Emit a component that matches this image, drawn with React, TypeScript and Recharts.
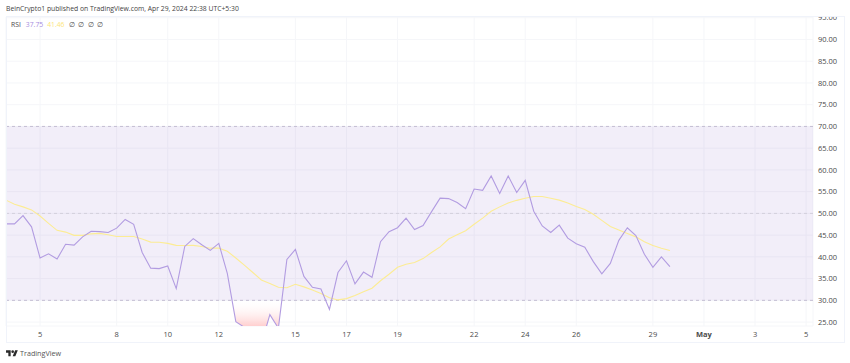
import { Area, CartesianGrid, ComposedChart, Line, ReferenceArea, ReferenceLine, XAxis, YAxis } from "recharts";

const FONT = "'Open Sans', sans-serif";

// 8h candles, the first one sits at Apr 3 16:00
const FIRST_DAY = 3 + 2 / 3;

const rsiValues = [
  47.6, 47.6, 49.5, 46.9, 39.75, 40.7, 39.5, 42.9, 42.7, 44.6,
  45.9, 45.8, 45.6, 46.6, 48.6, 47.5, 41.0, 37.4, 37.3, 37.9,
  32.7, 42.4, 44.2, 42.8, 41.5, 43.1, 36.2, 25.1, 23.8, 22.0,
  20.0, 26.7, 23.6, 39.4, 41.7, 35.5, 33.0, 32.6, 27.9, 36.4,
  39.1, 33.8, 36.5, 35.3, 43.5, 45.8, 46.7, 48.9, 46.3, 47.2,
  50.4, 53.5, 53.4, 52.5, 51.1, 55.6, 55.3, 58.6, 54.6, 58.6,
  54.8, 57.6, 50.5, 47.1, 45.6, 47.3, 44.3, 43.0, 42.2, 38.9,
  36.1, 38.5, 43.8, 46.7, 44.9, 40.6, 37.6, 40.0, 37.75,
];

const maValues = [
  53.05, 52.1, 51.5, 50.8, 49.4, 47.7, 46.1, 45.7, 44.95, 44.95,
  45.3, 45.4, 45.1, 44.7, 44.7, 44.7, 44.1, 43.4, 43.35, 43.1,
  42.65, 42.6, 42.65, 42.4, 42.0, 42.0, 41.3, 39.75, 38.1, 36.4,
  34.7, 33.9, 33.0, 32.9, 33.7, 33.1, 32.4, 31.6, 30.6, 30.1,
  30.4, 31.1, 31.95, 32.8, 34.5, 36.0, 37.6, 38.3, 38.7, 39.6,
  41.0, 42.3, 44.1, 45.1, 46.0, 47.5, 48.9, 50.5, 51.5, 52.4,
  53.0, 53.5, 53.9, 53.9, 53.5, 53.05, 52.4, 51.6, 50.9, 49.8,
  48.4, 47.0, 46.2, 45.4, 44.6, 43.5, 42.6, 42.0, 41.46,
];

const dayTicks = [5, 8, 10, 12, 15, 17, 19, 22, 24, 26, 29, 31, 33, 35];
const dayLabels = ["5", "8", "10", "12", "15", "17", "19", "22", "24", "26", "29", "May", "3", "5"];
const valueTicks = [25, 30, 35, 40, 45, 50, 55, 60, 65, 70, 75, 80, 85, 90, 95];

const data = rsiValues.map((rsi, i) => ({
  day: FIRST_DAY + i / 3,
  rsi,
  ma: maValues[i],
}));

function DayTick({ x, y, payload }: any) {
  const label = dayLabels[dayTicks.indexOf(payload.value)];
  return (
    <text
      x={x}
      y={y + 3}
      textAnchor="middle"
      fontFamily={FONT}
      fontSize={7.5}
      fontWeight={label === "May" ? 700 : 400}
      fill="#4a4a4a"
    >
      {label}
    </text>
  );
}

export default function App() {
  return (
    <div style={{ position: "absolute", left: 0, top: 0, width: 850, height: 363, background: "#fff", overflow: "hidden", fontFamily: FONT }}>
      <ComposedChart
        width={850}
        height={363}
        data={data}
        margin={{ top: 16, right: 0, bottom: 21, left: 6 }}
      >
        <defs>
          <linearGradient id="oversold" gradientUnits="userSpaceOnUse" x1="0" y1="300" x2="0" y2="326">
            <stop offset="0" stopColor="#ffffff" stopOpacity={0} />
            <stop offset="1" stopColor="#ffcfcf" stopOpacity={1} />
          </linearGradient>
        </defs>
        <CartesianGrid stroke="#f5f6f9" strokeWidth={1} />
        <XAxis
          type="number"
          dataKey="day"
          domain={[3.668, 35.27]}
          ticks={dayTicks}
          interval={0}
          height={16}
          axisLine={false}
          tickLine={false}
          tick={<DayTick />}
        />
        <YAxis
          orientation="right"
          type="number"
          domain={[24.1, 95.4]}
          ticks={valueTicks}
          interval={0}
          allowDataOverflow
          width={37}
          axisLine={false}
          tickLine={false}
          tickSize={0}
          tickMargin={5}
          tick={{ fontFamily: FONT, fontSize: 7.5, fill: "#4a4a4a", textAnchor: "start" }}
          tickFormatter={(v) => v.toFixed(2)}
        />
        <ReferenceArea y1={30} y2={70} fill="#7e57c2" fillOpacity={0.1} stroke="none" />
        <ReferenceLine y={70} stroke="#c4bed2" strokeDasharray="3 3" />
        <ReferenceLine y={50} stroke="#d3cfdc" strokeDasharray="3 3" />
        <ReferenceLine y={30} stroke="#c4bed2" strokeDasharray="3 3" />
        <Area
          dataKey="rsi"
          baseValue={30}
          fill="url(#oversold)"
          fillOpacity={1}
          stroke="none"
          dot={false}
          activeDot={false}
          isAnimationActive={false}
        />
        <Line dataKey="ma" stroke="#fcec94" strokeWidth={1.1} dot={false} isAnimationActive={false} />
        <Line dataKey="rsi" stroke="#b29ce1" strokeWidth={1.1} dot={false} isAnimationActive={false} />
      </ComposedChart>

      {/* mask that cuts the top price label, then the pane frame */}
      <div style={{ position: "absolute", left: 0, top: 0, width: 850, height: 17, background: "#fff" }} />
      <div style={{ position: "absolute", left: 6, top: 16, width: 837, height: 325, border: "1px solid #f0f3fa", pointerEvents: "none" }} />

      <div style={{ position: "absolute", left: 6, top: 3, fontSize: 6.8, lineHeight: "12px", color: "#444", whiteSpace: "nowrap" }}>
        BeinCrypto1 published on TradingView.com, Apr 29, 2024 22:38 UTC+5:30
      </div>

      <div style={{ position: "absolute", left: 11, top: 19, fontSize: 6.8, lineHeight: "12px", color: "#4a4a4a", whiteSpace: "nowrap" }}>
        RSI
        <span style={{ color: "#a68de0", marginLeft: 5 }}>37.75</span>
        <span style={{ color: "#fce678", marginLeft: 4 }}>41.46</span>
        <span style={{ marginLeft: 4 }}>∅</span>
        <span style={{ marginLeft: 3.5 }}>∅</span>
        <span style={{ marginLeft: 3.5 }}>∅</span>
        <span style={{ marginLeft: 3.5 }}>∅</span>
      </div>

      <svg style={{ position: "absolute", left: 6, top: 348.5 }} width={12} height={9.3} viewBox="0 0 36 28">
        <path d="M14 22H7V11H0V4h14v18zM28 22h-8l7.5-18h8L28 22z" fill="#2a2a2a" />
        <circle cx={20} cy={8} r={4} fill="#2a2a2a" />
      </svg>
      <div style={{ position: "absolute", left: 20, top: 347, fontSize: 7.2, lineHeight: "12px", fontWeight: 500, color: "#555", whiteSpace: "nowrap" }}>
        TradingView
      </div>
    </div>
  );
}
